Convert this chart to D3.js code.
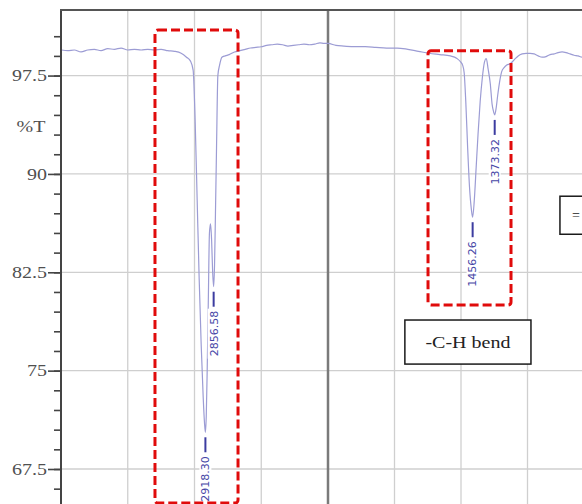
<!DOCTYPE html>
<html>
<head>
<meta charset="utf-8">
<script src="https://cdn.jsdelivr.net/npm/d3@7"></script>
<style>
  body { margin: 0; background: #fff; }
  svg { display: block; }
</style>
</head>
<body>
<svg id="chart"></svg>
<script>
const width = 582; // pixels
const height = 504; // pixels

// spectrum (wavenumber in cm-1, %T)
const wavenumbers = [
    3995, 3950, 3900, 3850, 3800, 3750, 3700, 3650, 3600, 3550, 3500, 3450, 3400, 3350, 3300,
    3250, 3200, 3150, 3100, 3060, 3030, 3010, 2995, 2980, 2965, 2950, 2935, 2925, 2918.30,
    2912, 2905, 2897, 2888, 2880, 2872, 2864, 2856.58, 2850, 2843, 2835, 2825, 2812, 2795,
    2770, 2740, 2700, 2660, 2620, 2580, 2540, 2500, 2460, 2420, 2380, 2340, 2300, 2260, 2220,
    2180, 2140, 2100, 2060, 2030, 2000, 1970, 1940, 1900, 1860, 1820, 1780, 1740, 1700, 1660,
    1620, 1580, 1540, 1515, 1500, 1494, 1488, 1482, 1475, 1468, 1461, 1456.26, 1450, 1443,
    1436, 1428, 1420, 1412, 1405, 1398, 1390, 1383, 1377, 1373.32, 1368, 1362, 1355, 1347,
    1338, 1328, 1315, 1300, 1285, 1270, 1255, 1240, 1225, 1210, 1195, 1180, 1165, 1150, 1135,
    1120, 1105, 1090, 1075, 1060, 1045, 1030
];
const transmittance = [
    99.45, 99.4, 99.45, 99.3, 99.45, 99.5, 99.4, 99.55, 99.5, 99.6, 99.45, 99.5, 99.45, 99.5, 99.45,
    99.5, 99.4, 99.35, 99.2, 98.9, 98.6, 97.9, 94, 88, 82, 77, 73, 71, 70.3,
    71.5, 75, 80, 85.5, 86.2, 85, 82.5, 81.4, 83, 87, 92, 97.5, 98.3, 98.9,
    99.0, 99.1, 99.3, 99.4, 99.5, 99.6, 99.65, 99.7, 99.8, 99.85, 99.9, 99.85, 99.75, 99.8, 99.85,
    99.9, 99.85, 99.9, 100.0, 99.95, 99.95, 99.8, 99.75, 99.7, 99.7, 99.65, 99.6, 99.6, 99.5, 99.35,
    99.2, 99.1, 99.0, 98.8, 98.5, 98.3, 97.7, 95.5, 92, 89, 87.3, 86.7, 88, 90.5,
    93, 95.5, 97.3, 98.5, 98.8, 98.0, 96.9, 95.3, 94.7, 94.5, 95.0, 96.0, 97.0, 97.8,
    98.1, 98.3, 98.4, 98.7, 99.0, 99.15, 99.2, 99.2, 99.15, 99.0, 98.9, 98.95, 99.1, 99.15, 99.25,
    99.3, 99.25, 99.15, 99.05, 99.0, 98.9, 98.9
];

const peakWavenumbers = [2918.30, 2856.58, 1456.26, 1373.32];
const peakTransmittance = [70.3, 81.4, 86.7, 94.5];
const peakLabels = ["2918.30", "2856.58", "1456.26", "1373.32"];

const yTicks = [97.5, 90, 82.5, 75, 67.5];
const xGrid = [3500, 3000, 2500, 1750, 1500, 1250, 1000];
const xBreak = 2000;

// red dashed highlight regions: [wavenumber from, to], [%T top, bottom]
const highlightWn = [[3296, 2674], [1624, 1312]];
const highlightT = [[100.97, 64.9], [99.4, 80.0]];

// callout boxes: [wavenumber left, right], [%T top, bottom]
const calloutTexts = ["-C-H bend", "="];
const calloutWn = [[1711, 1237], [1128, 850]];
const calloutT = [[78.86, 75.5], [88.3, 85.4]];

// IR axis: 4000-2000 compressed, 2000-1000 expanded
const x = d3.scaleLinear([4000, 2000, 1000], [61, 328, 594]);
const y = d3.scaleLinear([67.5, 102.5], [469, 10]);

const svg = d3.select("#chart")
    .attr("width", width)
    .attr("height", height)
    .attr("viewBox", [0, 0, width, height]);

const textStretch = 1.25; // picture is horizontally stretched

// grid
svg.append("g")
    .attr("stroke", "#cfcfcf")
    .attr("stroke-width", 1.3)
    .call(g => g.selectAll("line.h")
        .data(yTicks)
        .join("line")
        .attr("class", "h")
        .attr("x1", 61).attr("x2", width)
        .attr("y1", d => y(d)).attr("y2", d => y(d)))
    .call(g => g.selectAll("line.v")
        .data(xGrid)
        .join("line")
        .attr("class", "v")
        .attr("x1", d => x(d)).attr("x2", d => x(d))
        .attr("y1", 10).attr("y2", height));

svg.append("line")
    .attr("x1", x(xBreak)).attr("x2", x(xBreak))
    .attr("y1", 10).attr("y2", height)
    .attr("stroke", "#7a7a7a")
    .attr("stroke-width", 2.5);

// spectrum
const spectrum = wavenumbers.map((w, i) => [w, transmittance[i]]);
svg.append("path")
    .datum(spectrum)
    .attr("fill", "none")
    .attr("stroke", "#9c9cd4")
    .attr("stroke-width", 1.2)
    .attr("d", d3.line()
        .x(d => x(d[0]))
        .y(d => y(d[1]))
        .curve(d3.curveMonotoneX));

// peak markers
const peaks = svg.append("g").selectAll("g")
    .data(peakWavenumbers.map((w, i) => ({w, t: peakTransmittance[i], label: peakLabels[i]})))
    .join("g")
    .attr("transform", d => `translate(${x(d.w)},${y(d.t)})`);

peaks.append("line")
    .attr("y1", 5).attr("y2", 20)
    .attr("stroke", "#3c3ca0")
    .attr("stroke-width", 2);

peaks.append("rect")
    .attr("x", -6).attr("y", 22)
    .attr("width", 12).attr("height", 50)
    .attr("fill", "#fff");

peaks.append("text")
    .attr("transform", "translate(0,24) rotate(-90)")
    .attr("text-anchor", "end")
    .attr("dy", "0.35em")
    .attr("font-family", "DejaVu Sans, sans-serif")
    .attr("font-size", 11)
    .attr("fill", "#4646a6")
    .text(d => d.label);

// highlight boxes
svg.append("g")
    .selectAll("rect")
    .data(highlightWn.map((w, i) => ({w, t: highlightT[i]})))
    .join("rect")
    .attr("x", d => x(d.w[0]))
    .attr("y", d => y(d.t[0]))
    .attr("width", d => x(d.w[1]) - x(d.w[0]))
    .attr("height", d => y(d.t[1]) - y(d.t[0]))
    .attr("rx", 3)
    .attr("fill", "none")
    .attr("stroke", "#e00b0b")
    .attr("stroke-width", 3)
    .attr("stroke-dasharray", "9 4");

// callouts
const callouts = svg.append("g")
    .selectAll("g")
    .data(calloutTexts.map((text, i) => ({text, w: calloutWn[i], t: calloutT[i]})))
    .join("g");

callouts.append("rect")
    .attr("x", d => x(d.w[0]))
    .attr("y", d => y(d.t[0]))
    .attr("width", d => x(d.w[1]) - x(d.w[0]))
    .attr("height", d => y(d.t[1]) - y(d.t[0]))
    .attr("fill", "#fff")
    .attr("stroke", "#1a1a1a")
    .attr("stroke-width", 1.5);

callouts.append("text")
    .attr("transform", (d, i) => {
        const cx = i === 0 ? (x(d.w[0]) + x(d.w[1])) / 2 : x(d.w[0]) + 12;
        const cy = (y(d.t[0]) + y(d.t[1])) / 2;
        return `translate(${cx},${cy}) scale(${i === 0 ? textStretch : 1},1)`;
    })
    .attr("text-anchor", (d, i) => i === 0 ? "middle" : "start")
    .attr("dy", "0.35em")
    .attr("font-family", "Liberation Serif, serif")
    .attr("font-size", (d, i) => i === 0 ? 16 : 14)
    .attr("fill", "#222")
    .text(d => d.text);

// y axis
const yAxisMinor = g => g
    .attr("transform", "translate(61,0)")
    .call(d3.axisLeft(y).tickValues(d3.range(64.5, 101, 1.5)).tickSize(7).tickFormat(""))
    .call(g => g.select(".domain").remove())
    .call(g => g.selectAll(".tick line").attr("stroke", "#444").attr("stroke-width", 1.6));

const yAxisMajor = g => g
    .attr("transform", "translate(61,0)")
    .call(d3.axisLeft(y).tickValues(yTicks).tickSize(13).tickFormat(d => String(d)))
    .call(g => g.select(".domain").remove())
    .call(g => g.selectAll(".tick line").attr("stroke", "#444").attr("stroke-width", 1.6))
    .call(g => g.selectAll(".tick text")
        .attr("x", null)
        .attr("transform", `translate(-14,0) scale(${textStretch},1)`)
        .attr("font-family", "Liberation Serif, serif")
        .attr("font-size", 16)
        .attr("fill", "#505050"));

svg.append("g").call(yAxisMinor);
svg.append("g").call(yAxisMajor);

svg.append("text")
    .attr("transform", `translate(31,132) scale(${textStretch},1)`)
    .attr("text-anchor", "middle")
    .attr("font-family", "Liberation Serif, serif")
    .attr("font-size", 16)
    .attr("fill", "#505050")
    .text("%T");

// frame
svg.append("line")
    .attr("x1", 61).attr("x2", 61)
    .attr("y1", 10).attr("y2", height)
    .attr("stroke", "#444").attr("stroke-width", 2);
svg.append("line")
    .attr("x1", 60).attr("x2", width)
    .attr("y1", 10).attr("y2", 10)
    .attr("stroke", "#555").attr("stroke-width", 2);
</script>
</body>
</html>
